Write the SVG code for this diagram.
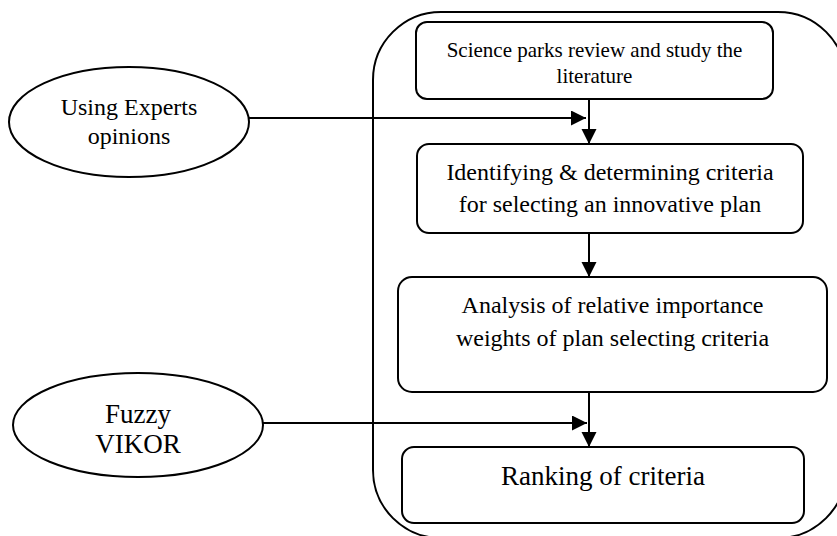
<svg xmlns="http://www.w3.org/2000/svg" width="837" height="536" viewBox="0 0 837 536">
<style>
.shape{fill:#fff;stroke:#000;stroke-width:2}
.outer{fill:none;stroke:#000;stroke-width:2}
.line{fill:none;stroke:#000;stroke-width:2}
text{font-family:"Liberation Serif","Times New Roman",serif;fill:#000;text-anchor:middle}
</style>
<defs>
<marker id="arr" markerUnits="userSpaceOnUse" markerWidth="16" markerHeight="16" refX="15" refY="7.5" orient="auto">
<path d="M0,0 L15,7.5 L0,15 z" fill="#000"/>
</marker>
</defs>
<rect width="837" height="536" fill="#fff"/>
<g id="container">
<rect class="outer" x="373" y="12" width="473" height="526" rx="68" ry="68"/>
</g>
<g id="n1">
<rect class="shape" x="416" y="22" width="357" height="77" rx="11"/>
<text x="594.5" y="57" font-size="21">Science parks review and study the</text>
<text x="594.5" y="83" font-size="21">literature</text>
</g>
<g id="n2">
<rect class="shape" x="417" y="144" width="386" height="89" rx="12"/>
<text x="610" y="180" font-size="24">Identifying &amp; determining criteria</text>
<text x="610" y="212" font-size="24">for selecting an innovative plan</text>
</g>
<g id="n3">
<rect class="shape" x="398" y="277" width="429" height="115" rx="14"/>
<text x="612.5" y="313" font-size="24">Analysis of relative importance</text>
<text x="612.5" y="346" font-size="24">weights of plan selecting criteria</text>
</g>
<g id="n4">
<rect class="shape" x="402" y="447" width="402" height="76" rx="12"/>
<text x="603" y="485" font-size="27">Ranking of criteria</text>
</g>
<g id="e1">
<ellipse class="shape" cx="129" cy="122" rx="120" ry="55"/>
<text x="129" y="115" font-size="24">Using Experts</text>
<text x="129" y="144" font-size="24">opinions</text>
</g>
<g id="e2">
<ellipse class="shape" cx="138" cy="425" rx="125" ry="52"/>
<text x="138" y="423" font-size="27">Fuzzy</text>
<text x="138" y="453" font-size="27">VIKOR</text>
</g>
<g id="connectors">
<line class="line" x1="249" y1="118" x2="586" y2="118" marker-end="url(#arr)"/>
<line class="line" x1="589" y1="99" x2="589" y2="144" marker-end="url(#arr)"/>
<line class="line" x1="589" y1="233" x2="589" y2="277" marker-end="url(#arr)"/>
<line class="line" x1="263" y1="423" x2="587" y2="423" marker-end="url(#arr)"/>
<line class="line" x1="589" y1="392" x2="589" y2="447" marker-end="url(#arr)"/>
</g>
</svg>
